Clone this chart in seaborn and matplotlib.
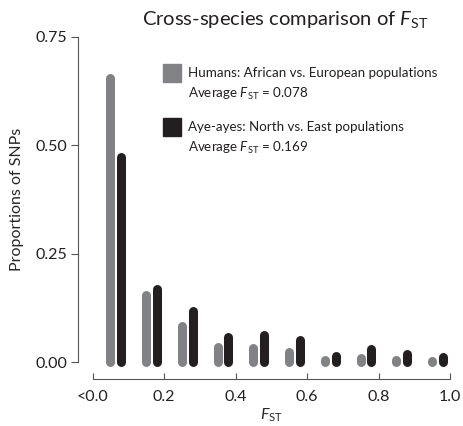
import numpy as np
import pandas as pd
import matplotlib
matplotlib.use("Agg")
import matplotlib.pyplot as plt
import seaborn as sns
from matplotlib.patches import Rectangle

# F_ST bins (centres) and proportion of SNPs in each bin
bin_centres = [0.05, 0.15, 0.25, 0.35, 0.45, 0.55, 0.65, 0.75, 0.85, 0.95]
humans = [0.655, 0.155, 0.084, 0.034, 0.032, 0.023, 0.005, 0.009, 0.005, 0.002]
ayeayes = [0.472, 0.168, 0.118, 0.058, 0.062, 0.051, 0.015, 0.029, 0.018, 0.011]

x_ticks = [0.0, 0.2, 0.4, 0.6, 0.8, 1.0]
x_ticklabels = ["<0.0", "0.2", "0.4", "0.6", "0.8", "1.0"]
y_ticks = [0.0, 0.25, 0.5, 0.75]
y_ticklabels = ["0.00", "0.25", "0.50", "0.75"]

grey = "#808285"
black = "#231f20"

df = pd.DataFrame({"bin": bin_centres, "Humans": humans, "Aye-ayes": ayeayes})

sns.set_theme(style="ticks")
plt.rcParams["font.family"] = ["Lato", "DejaVu Sans"]
plt.rcParams["mathtext.fontset"] = "custom"
plt.rcParams["mathtext.rm"] = "Lato"
plt.rcParams["mathtext.it"] = "Lato:italic"
plt.rcParams["text.color"] = "#231f20"

fig = plt.figure(figsize=(4.63, 4.26), dpi=100)
ax = fig.add_axes([92.5 / 463, 64 / 426, 357.5 / 463, 325 / 426])

# bars drawn as thick lines with rounded ends (not clipped, so the caps show)
lw = 6.5
for _, row in df.iterrows():
    ax.plot([row["bin"], row["bin"]], [0, row["Humans"]], color=grey,
            linewidth=lw, solid_capstyle="round", clip_on=False)
    ax.plot([row["bin"] + 0.03, row["bin"] + 0.03], [0, row["Aye-ayes"]],
            color=black, linewidth=lw, solid_capstyle="round", clip_on=False)

ax.set_xlim(0, 1)
ax.set_ylim(0, 0.75)
ax.set_xticks(x_ticks)
ax.set_xticklabels(x_ticklabels)
ax.set_yticks(y_ticks)
ax.set_yticklabels(y_ticklabels)

sns.despine(ax=ax)
ax.spines["left"].set_position(("outward", 10.4))
ax.spines["bottom"].set_position(("outward", 12))
for s in ("left", "bottom"):
    ax.spines[s].set_color("#555555")
    ax.spines[s].set_linewidth(0.8)
ax.tick_params(axis="y", direction="out", length=5, width=0.8, color="#555555",
               labelsize=11.5, labelcolor="#231f20", pad=3)
ax.tick_params(axis="x", direction="in", length=4, width=0.8, color="#555555",
               labelsize=11.5, labelcolor="#231f20", pad=8)

ax.set_ylabel("Proportions of SNPs", fontsize=11.5, labelpad=8)
ax.set_xlabel("$F_{\\rm ST}$", fontsize=11.5, labelpad=2)

fig.text(285 / 463, 1 - 20 / 426, "Cross-species comparison of $F_{\\rm ST}$",
         ha="center", va="center", fontsize=14.5)

# legend, drawn by hand
leg = [(grey, "Humans: African vs. European populations", "0.078", 73),
       (black, "Aye-ayes: North vs. East populations", "0.169", 127)]
for col, lab, avg, yy in leg:
    fig.patches.append(Rectangle((163 / 463, 1 - (yy + 9) / 426), 18 / 463, 18 / 426,
                                 transform=fig.transFigure, color=col))
    fig.text(188 / 463, 1 - yy / 426, lab, ha="left", va="center", fontsize=9.6)
    fig.text(188 / 463, 1 - (yy + 21) / 426, "Average $F_{\\rm ST}$ = " + avg,
             ha="left", va="center", fontsize=9.6)

fig.savefig("out.png", dpi=100)
